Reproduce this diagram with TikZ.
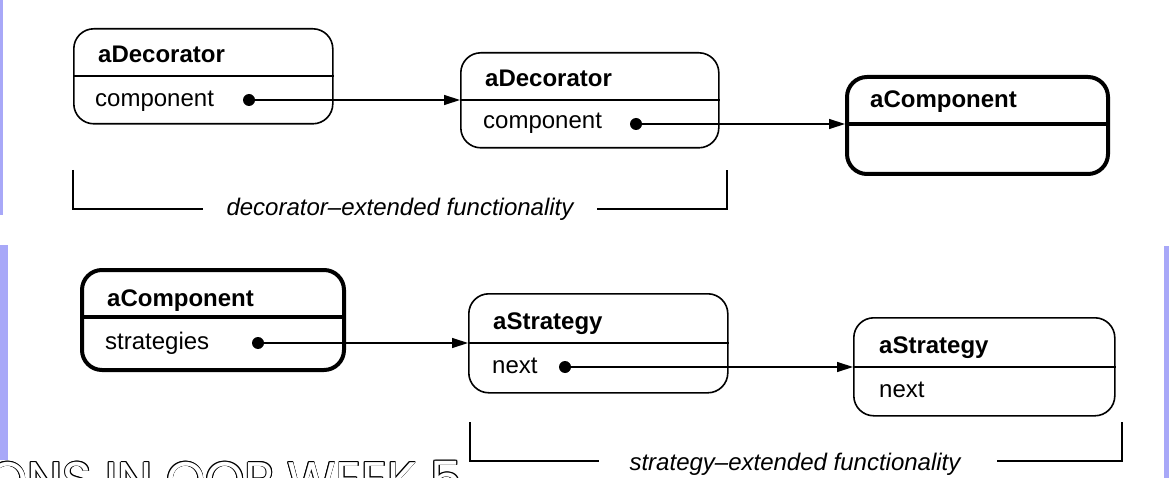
\documentclass[tikz,border=0pt]{standalone}
\usepackage{fontspec}
\setmainfont{Liberation Sans}
\newfontfamily\geofont{Poppins}
\usetikzlibrary{arrows.meta}
\definecolor{lav}{RGB}{168,168,248}
\tikzset{
  objbox/.style={draw, rounded corners=20pt, line width=1.6pt, inner sep=0pt, anchor=north west},
  thickbox/.style={objbox, line width=4pt},
  divline/.style={line width=1.6pt},
  thickdiv/.style={line width=4pt},
  titletext/.style={anchor=base west, inner sep=0pt, font=\bfseries\fontsize{24}{28}\selectfont},
  attrtext/.style={anchor=base west, inner sep=0pt, font=\fontsize{24}{28}\selectfont},
  labeltext/.style={anchor=base, inner sep=0pt, font=\itshape\fontsize{24}{28}\selectfont},
  dotn/.style={circle, fill=black, inner sep=0pt, minimum size=12pt},
  conn/.style={line width=1.3pt, -{Triangle[length=16pt,width=10pt]}},
  brk/.style={line width=1.6pt},
  outl/.style={anchor=base west, inner sep=0pt, font=\geofont\fontsize{50}{54}\selectfont}
}
\begin{document}
\begin{tikzpicture}[x=1pt,y=-1pt]
\useasboundingbox (0,0) rectangle (1169,478);
\fill[white] (0,0) rectangle (1169,478);
% side strips
\fill[lav] (0,0) rectangle (3,215);
\fill[lav] (0,245) rectangle (8,460);
\fill[lav] (1164,246) rectangle (1169,478);

% outlined slide title fragment
\foreach \dx/\dy in {0.8/0,-0.8/0,0/0.8,0/-0.8,0.6/0.6,-0.6/0.6,0.6/-0.6,-0.6/-0.6}
  \node[outl, text=black] at (-12+\dx,497+\dy) {ONS IN OOP WEEK 5};
\node[outl, text=white] (slide) at (-12,497) {ONS IN OOP WEEK 5};

% ---- top row ----
\node[objbox, minimum width=259pt, minimum height=95pt] (b1) at (73,28) {};
\coordinate (b1d) at (73,76);
\draw[divline] (b1d) -- (b1d -| b1.east);
\node[titletext] (t1) at (98,63) {aDecorator};
\node[attrtext] (a1) at (95,107) {component};
\node[dotn] (d1) at (249,100) {};

\node[objbox, minimum width=258pt, minimum height=95pt] (b2) at (460,52) {};
\coordinate (b2d) at (460,100);
\draw[divline] (b2d) -- (b2d -| b2.east);
\node[titletext] (t2) at (485,87) {aDecorator};
\node[attrtext] (a2) at (483,129) {component};
\node[dotn] (d2) at (636,124) {};

\node[thickbox, minimum width=261pt, minimum height=97pt] (b3) at (845,75) {};
\coordinate (b3d) at (845,124);
\draw[thickdiv] (b3d) -- (b3d -| b3.east);
\node[titletext] (t3) at (870,108) {aComponent};

\draw[conn] (d1.center) -- (b2d);
\draw[conn] (d2.center) -- (b3d);

% top bracket
\node[labeltext] (l1) at (400,216) {decorator–extended functionality};
\coordinate (k1a) at (73,170);
\coordinate (k1b) at (203,209);
\coordinate (k1c) at (597,209);
\coordinate (k1d) at (727,170);
\draw[brk] (k1a) |- (k1b);
\draw[brk] (k1c) -| (k1d);

% ---- bottom row ----
\node[thickbox, minimum width=262pt, minimum height=100pt] (b4) at (80,268) {};
\coordinate (b4d) at (80,317);
\draw[thickdiv] (b4d) -- (b4d -| b4.east);
\node[titletext] (t4) at (107,306) {aComponent};
\node[attrtext] (a4) at (105,349) {strategies};
\node[dotn] (d4) at (258,343) {};

\node[objbox, minimum width=259pt, minimum height=99pt] (b5) at (468,293) {};
\coordinate (b5d) at (468,343);
\draw[divline] (b5d) -- (b5d -| b5.east);
\node[titletext] (t5) at (493,329) {aStrategy};
\node[attrtext] (a5) at (492,373) {next};
\node[dotn] (d5) at (565,367) {};

\node[objbox, minimum width=261pt, minimum height=98pt] (b6) at (853,317) {};
\coordinate (b6d) at (853,367);
\draw[divline] (b6d) -- (b6d -| b6.east);
\node[titletext] (t6) at (879,353) {aStrategy};
\node[attrtext] (a6) at (879,397) {next};

\draw[conn] (d4.center) -- (b5d);
\draw[conn] (d5.center) -- (b6d);

% bottom bracket
\node[labeltext] (l2) at (795,470) {strategy–extended functionality};
\coordinate (k2a) at (470,422);
\coordinate (k2b) at (599,461);
\coordinate (k2c) at (997,461);
\coordinate (k2d) at (1122,422);
\draw[brk] (k2a) |- (k2b);
\draw[brk] (k2c) -| (k2d);
\end{tikzpicture}
\end{document}
